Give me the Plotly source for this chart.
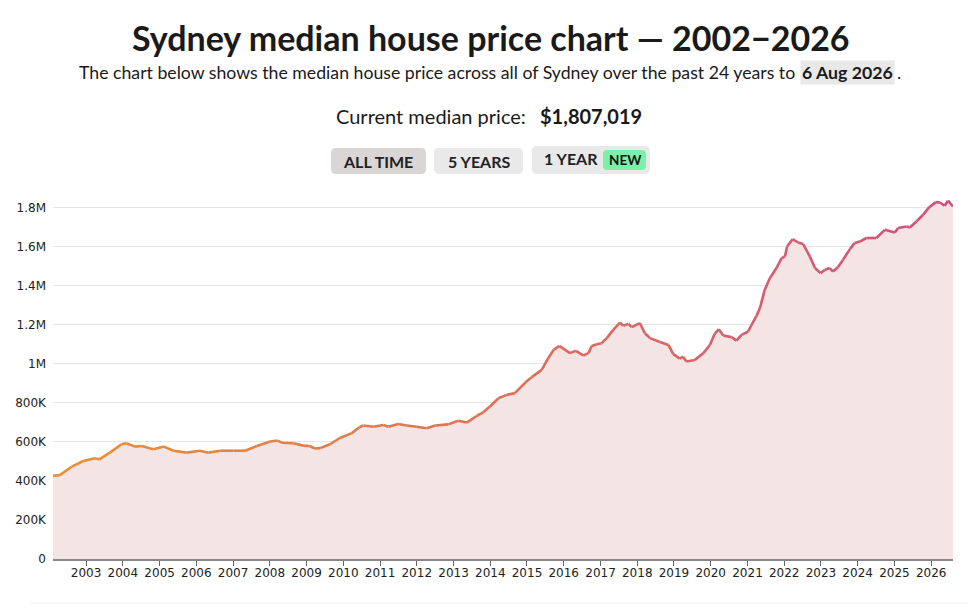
import plotly.graph_objects as go
import pandas as pd

# median house price readings (dates and values in $K)
dates = [
    "2002-02-06", "2002-04-15", "2002-08-10", "2002-12-05", "2003-03-28", "2003-05-12",
    "2003-08-25", "2003-12-20", "2004-02-03", "2004-05-01", "2004-07-08", "2004-10-30",
    "2005-02-13", "2005-05-19", "2005-09-27", "2006-02-06", "2006-05-01", "2006-08-26",
    "2007-01-05", "2007-05-01", "2007-08-26", "2008-01-05", "2008-03-18", "2008-05-01",
    "2008-08-22", "2008-11-28", "2009-01-30", "2009-03-26", "2009-05-16", "2009-08-22",
    "2009-11-28", "2010-03-26", "2010-06-10", "2010-07-20", "2010-10-27", "2011-02-03",
    "2011-03-26", "2011-07-02", "2011-09-24", "2012-01-01", "2012-04-08", "2012-07-02",
    "2012-11-10", "2013-02-17", "2013-05-12", "2013-08-19", "2013-10-23", "2013-12-28",
    "2014-03-23", "2014-06-14", "2014-09-03", "2014-12-15", "2015-02-17", "2015-05-27",
    "2015-07-31", "2015-09-24", "2015-11-18", "2016-03-03", "2016-05-01", "2016-07-13",
    "2016-09-03", "2016-10-05", "2016-11-25", "2017-01-12", "2017-03-04", "2017-05-08",
    "2017-07-13", "2017-08-15", "2017-10-05", "2017-11-07", "2018-01-27", "2018-03-18",
    "2018-05-08", "2018-08-15", "2018-11-07", "2018-12-24", "2019-02-28", "2019-04-01",
    "2019-05-05", "2019-07-27", "2019-10-20", "2019-12-24", "2020-02-10", "2020-03-21",
    "2020-05-05", "2020-07-27", "2020-09-13", "2020-11-03", "2021-01-08", "2021-02-10",
    "2021-04-01", "2021-05-05", "2021-06-21", "2021-08-11", "2021-10-16", "2021-12-06",
    "2022-01-08", "2022-01-30", "2022-03-25", "2022-05-19", "2022-07-09", "2022-09-13",
    "2022-11-03", "2022-12-28", "2023-02-10", "2023-03-29", "2023-05-01", "2023-06-21",
    "2023-08-08", "2023-10-16", "2023-12-02", "2024-01-23", "2024-03-28", "2024-07-05",
    "2024-09-27", "2025-01-05", "2025-02-06", "2025-05-01", "2025-06-03", "2025-08-08",
    "2025-10-13", "2025-12-13", "2026-02-17", "2026-03-29", "2026-05-15", "2026-06-17",
    "2026-08-06",
]
price_k = [
    426, 430, 473, 502, 516, 511,
    545, 588, 593, 576, 579, 562,
    576, 555, 545, 555, 545, 555,
    555, 555, 579, 602, 607, 596,
    593, 581, 579, 566, 568, 588,
    620, 645, 675, 684, 678, 687,
    678, 692, 684, 678, 670, 684,
    690, 708, 699, 733, 752, 781,
    824, 841, 850, 904, 932, 969,
    1029, 1072, 1092, 1055, 1067, 1043,
    1055, 1092, 1101, 1106, 1132, 1174,
    1212, 1195, 1205, 1188, 1209, 1157,
    1132, 1112, 1097, 1051, 1026, 1037,
    1012, 1020, 1055, 1097, 1154, 1178,
    1145, 1137, 1119, 1149, 1166, 1200,
    1246, 1286, 1379, 1439, 1491, 1542,
    1550, 1601, 1639, 1622, 1614, 1550,
    1491, 1465, 1482, 1491, 1473, 1496,
    1533, 1588, 1619, 1627, 1645, 1645,
    1687, 1673, 1696, 1704, 1699, 1730,
    1764, 1803, 1829, 1827, 1810, 1836,
    1807,
]
year_ticks = [str(y) for y in range(2003, 2027)]
price_ticks = [0, 200000, 400000, 600000, 800000, 1000000, 1200000, 1400000, 1600000, 1800000]
price_tick_text = ["0", "200K", "400K", "600K", "800K", "1M", "1.2M", "1.4M", "1.6M", "1.8M"]

x = pd.to_datetime(dates)
y = [v * 1000 for v in price_k]

# the page adds an 8px body margin, so the figure is drawn 8px in from the window
OFF = 8
W, H = 960, 596
L, R, T, B = 45, 15, 190, 45
PW, PH = W - L - R, H - T - B


# window pixel -> paper fraction
def px(xp):
    return (xp - OFF - L) / PW


def py(yp):
    return (H - B - (yp - OFF)) / PH


START = (232, 145, 50)
END = (207, 80, 126)


def blend(t):
    c = [round(a + (b - a) * t) for a, b in zip(START, END)]
    return "rgb(%d,%d,%d)" % tuple(c)


fig = go.Figure()

# shaded area under the line
fig.add_trace(go.Scatter(x=x, y=y, mode="lines", line=dict(width=0),
    fill="tozeroy", fillcolor="#f4e4e4", hoverinfo="skip", showlegend=False))

# line drawn piece by piece so the colour can fade from orange to pink
t0, t1 = x[0].value, x[-1].value
for i in range(len(x) - 1):
    mid = (x[i].value + x[i + 1].value) / 2
    fig.add_trace(go.Scatter(x=x[i:i + 2], y=y[i:i + 2], mode="lines",
        line=dict(color=blend((mid - t0) / (t1 - t0)), width=2.6),
        showlegend=False, hoverinfo="skip"))

fig.update_xaxes(range=[x[0], x[-1]], tickvals=[y_ + "-01-01" for y_ in year_ticks],
    ticktext=year_ticks, ticks="outside", ticklen=5, tickcolor="#666",
    ticklabelstandoff=-3, automargin=False,
    showline=True, linecolor="#888", linewidth=1.5, showgrid=False,
    tickfont=dict(family="DejaVu Sans", size=12, color="#222"))
fig.update_yaxes(range=[0, 1850000], tickvals=price_ticks, ticktext=price_tick_text,
    showgrid=True, gridcolor="#e6e6e6", gridwidth=1, zeroline=False,
    ticklabelstandoff=6, automargin=False,
    tickfont=dict(family="DejaVu Sans", size=12, color="#222"))

head = "Lato"
notes = [
    dict(x=px(491), y=py(37), text="<b>Sydney median house price chart — 2002−2026</b>",
         font=dict(family=head, size=34, color="#1a1a1a")),
    dict(x=px(797), y=py(72), xanchor="right",
         text="The chart below shows the median house price across all of Sydney over the past 24 years to",
         font=dict(family=head, size=17.7, color="#1a1a1a")),
    dict(x=px(800), y=py(72), xanchor="left", text="<b>6 Aug 2026</b>", bgcolor="#e8e8e8",
         borderpad=1, font=dict(family=head, size=17.7, color="#1a1a1a")),
    dict(x=px(895), y=py(72), xanchor="left", text=".",
         font=dict(family=head, size=17.7, color="#1a1a1a")),
    dict(x=px(528), y=py(116), xanchor="right", text="Current median price:",
         font=dict(family=head, size=20, color="#1a1a1a")),
    dict(x=px(538), y=py(116), xanchor="left", text="<b>$1,807,019</b>",
         font=dict(family=head, size=20, color="#1a1a1a")),
    dict(x=px(378), y=py(161), text="<b>ALL TIME</b>", font=dict(family=head, size=16, color="#222")),
    dict(x=px(479), y=py(161), text="<b>5 YEARS</b>", font=dict(family=head, size=16, color="#222")),
    dict(x=px(571), y=py(159), text="<b>1 YEAR</b>", font=dict(family=head, size=16, color="#222")),
    dict(x=px(625), y=py(160), text="<b>NEW</b>", font=dict(family=head, size=13.5, color="#111")),
]
for n in notes:
    n.update(xref="paper", yref="paper", showarrow=False)
    n.setdefault("xanchor", "center")
    n.setdefault("yanchor", "middle")


def pill(x0, y0, x1, y1, color, r=5):
    # rounded box in paper units, corner radius r in pixels
    rx, ry = r / PW, r / PH
    a0, a1, b0, b1 = px(x0), px(x1), py(y1), py(y0)
    path = ("M %f,%f L %f,%f Q %f,%f %f,%f L %f,%f Q %f,%f %f,%f L %f,%f Q %f,%f %f,%f "
            "L %f,%f Q %f,%f %f,%f Z") % (
        a0 + rx, b0, a1 - rx, b0, a1, b0, a1, b0 + ry, a1, b1 - ry, a1, b1, a1 - rx, b1,
        a0 + rx, b1, a0, b1, a0, b1 - ry, a0, b0 + ry, a0, b0, a0 + rx, b0)
    return dict(type="path", path=path, xref="paper", yref="paper",
                fillcolor=color, line=dict(width=0), layer="below")


shapes = [
    pill(331, 148, 426, 174, "#d9d6d5"),
    pill(434, 148, 523, 174, "#e9e9e9"),
    pill(532, 146, 650, 174, "#e9e9e9"),
    pill(603, 150, 646, 170, "#7af0a8", r=4),
    dict(type="line", xref="paper", yref="paper", x0=px(30), x1=px(968), y0=py(603), y1=py(603),
         line=dict(color="#eeeeee", width=1)),
]

fig.update_layout(width=W, height=H, margin=dict(l=L, r=R, t=T, b=B),
    plot_bgcolor="white", paper_bgcolor="white", annotations=notes, shapes=shapes,
    showlegend=False)

fig.write_html("out.html")
